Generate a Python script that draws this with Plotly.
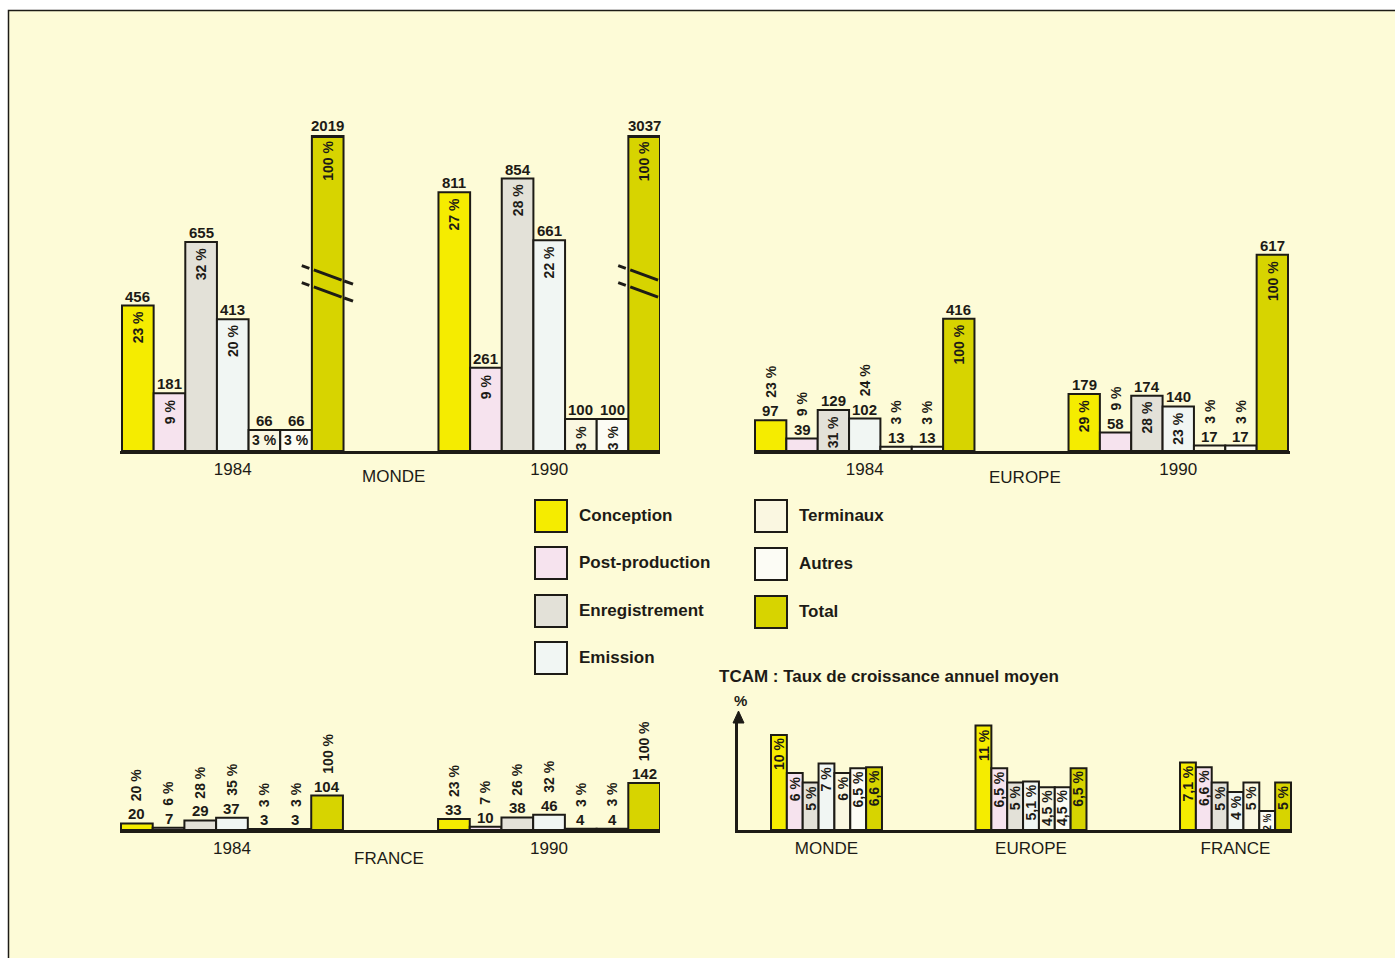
import plotly.graph_objects as go

# ---------------- data ----------------
CATEGORIES = ["Conception", "Post-production", "Enregistrement", "Emission",
              "Terminaux", "Autres", "Total"]
YEARS = ["1984", "1990"]

MONDE_1984 = [456, 181, 655, 413, 66, 66, 2019]
MONDE_1990 = [811, 261, 854, 661, 100, 100, 3037]
MONDE_PCT_1984 = [23, 9, 32, 20, 3, 3, 100]
MONDE_PCT_1990 = [27, 9, 28, 22, 3, 3, 100]

EUROPE_1984 = [97, 39, 129, 102, 13, 13, 416]
EUROPE_1990 = [179, 58, 174, 140, 17, 17, 617]
EUROPE_PCT_1984 = [23, 9, 31, 24, 3, 3, 100]
EUROPE_PCT_1990 = [29, 9, 28, 23, 3, 3, 100]

FRANCE_1984 = [20, 7, 29, 37, 3, 3, 104]
FRANCE_1990 = [33, 10, 38, 46, 4, 4, 142]
FRANCE_PCT_1984 = [20, 6, 28, 35, 3, 3, 100]
FRANCE_PCT_1990 = [23, 7, 26, 32, 3, 3, 100]

TCAM_REGIONS = ["MONDE", "EUROPE", "FRANCE"]
TCAM_MONDE = [10, 6, 5, 7, 6, 6.5, 6.6]
TCAM_EUROPE = [11, 6.5, 5, 5.1, 4.5, 4.5, 6.5]
TCAM_FRANCE = [7.1, 6.6, 5, 4, 5, 2, 5]
TCAM_TITLE = "TCAM : Taux de croissance annuel moyen"
TCAM_UNIT = "%"

# ---------------- style ----------------
COLORS = ["#F5EC00", "#F6E3EE", "#E3E1D8", "#F1F6F3", "#FAF7E1", "#FCFCF5", "#D7D400"]
BG = "#FDFBD7"
INK = "#1d1b16"
FONT = "Liberation Sans, Arial, sans-serif"

W, H = 1395, 958


def fx(x):
    return x / W


def fy(y):
    return 1 - y / H


fig = go.Figure()
annotations = []
shapes = []
layout_axes = {}

GAP = 10  # bar units between the two year groups

panels = [
    dict(name="MONDE", vals=[MONDE_1984, MONDE_1990], pct=[MONDE_PCT_1984, MONDE_PCT_1990],
         n=1, x0=120, x1=660, first=122, last=660, base=451, top=135, scale=0.319,
         mode="inside", flat_below=80, title=(393, 476), broken=True),
    dict(name="EUROPE", vals=[EUROPE_1984, EUROPE_1990], pct=[EUROPE_PCT_1984, EUROPE_PCT_1990],
         n=2, x0=754, x1=1290, first=755, last=1288, base=451, top=135, scale=0.318,
         mode="auto", inside_min=110, title=(1025, 477), broken=False),
    dict(name="FRANCE", vals=[FRANCE_1984, FRANCE_1990], pct=[FRANCE_PCT_1984, FRANCE_PCT_1990],
         n=3, x0=120, x1=660, first=121, last=660, base=830, top=700, scale=0.331,
         mode="outside", title=(389, 858), broken=False),
]

VAL_FONT = dict(family=FONT, size=15, color=INK, weight="bold")
PCT_FONT = dict(family=FONT, size=14, color=INK, weight="bold")
AXIS_FONT = dict(family=FONT, size=17, color=INK)

for p in panels:
    n = p["n"]
    xa = "x" if n == 1 else f"x{n}"
    ya = "y" if n == 1 else f"y{n}"
    u = (p["last"] - p["first"]) / (GAP + 7)
    xr = [-0.5 - (p["first"] - p["x0"]) / u, GAP + 6.5 + (p["x1"] - p["last"]) / u]
    ymax = (p["base"] - p["top"]) / p["scale"]
    layout_axes["xaxis" if n == 1 else f"xaxis{n}"] = dict(
        domain=[fx(p["x0"]), fx(p["x1"])], range=xr, anchor=ya,
        showline=True, linewidth=3, linecolor=INK, showgrid=False, zeroline=False,
        ticks="", tickvals=[3, GAP + 3], ticktext=YEARS,
        tickfont=AXIS_FONT, ticklabelstandoff=1, fixedrange=True)
    layout_axes["yaxis" if n == 1 else f"yaxis{n}"] = dict(
        domain=[fy(p["base"]), fy(p["top"])], range=[0, ymax], anchor=xa,
        visible=False, fixedrange=True)

    for k, cat in enumerate(CATEGORIES):
        fig.add_trace(go.Bar(
            x=[g * GAP + k for g in range(2)],
            y=[p["vals"][g][k] for g in range(2)],
            width=1, name=cat, xaxis=xa, yaxis=ya,
            marker=dict(color=COLORS[k], line=dict(color=INK, width=2)),
            showlegend=False, hoverinfo="skip"))

    for g in range(2):
        for k in range(7):
            v = p["vals"][g][k]
            pc = p["pct"][g][k]
            xc = g * GAP + k
            vtop = min(v, ymax)
            annotations.append(dict(
                x=xc, y=vtop, xref=xa, yref=ya, text=str(v), showarrow=False,
                yanchor="bottom", yshift=-1, font=VAL_FONT))
            ptxt = f"{pc} %"
            mode = p["mode"]
            if mode == "auto":
                mode = "inside" if v >= p["inside_min"] else "outside"
            if mode == "inside":
                if v < p.get("flat_below", 0):
                    annotations.append(dict(x=xc, y=v / 2, xref=xa, yref=ya, text=ptxt,
                                            showarrow=False, yanchor="middle", font=PCT_FONT))
                else:
                    annotations.append(dict(x=xc, y=vtop, xref=xa, yref=ya, text=ptxt,
                                            showarrow=False, yanchor="top", yshift=-4,
                                            textangle=-90, font=PCT_FONT))
            else:
                annotations.append(dict(x=xc, y=v, xref=xa, yref=ya, text=ptxt,
                                        showarrow=False, yanchor="bottom", yshift=20,
                                        textangle=-90, font=PCT_FONT))
            # clipped (broken) bars: top edge + break marks
            if p["broken"] and v > ymax:
                shapes.append(dict(type="line", xref=xa, yref=ya, x0=xc - 0.5, x1=xc + 0.5,
                                   y0=ymax - 1.5 / p["scale"], y1=ymax - 1.5 / p["scale"],
                                   line=dict(color=INK, width=3), layer="above"))
                ymid = (p["base"] - 275) / p["scale"]
                slope = -(11.5 / p["scale"])
                for off in (0, -17 / p["scale"]):
                    for a, b in ((-0.82, -0.58), (-0.44, 0.44), (0.52, 0.8)):
                        shapes.append(dict(type="line", xref=xa, yref=ya,
                                           x0=xc + a, x1=xc + b,
                                           y0=ymid + off + slope * a, y1=ymid + off + slope * b,
                                           line=dict(color=INK, width=3), layer="above"))

    annotations.append(dict(x=fx(p["title"][0]), y=fy(p["title"][1]), xref="paper", yref="paper",
                            text=p["name"], showarrow=False, xanchor="center", yanchor="middle",
                            font=AXIS_FONT))

# ---------------- TCAM panel ----------------
GAP_T = 12.9
TCAM_VALUES = [TCAM_MONDE, TCAM_EUROPE, TCAM_FRANCE]
t_x0, t_x1, t_first, t_last = 738, 1292, 771, 1291
t_base, t_top, t_scale = 830, 722, 9.5
u_t = (t_last - t_first) / (2 * GAP_T + 7)
layout_axes["xaxis4"] = dict(
    domain=[fx(t_x0), fx(t_x1)],
    range=[-0.5 - (t_first - t_x0) / u_t, 2 * GAP_T + 6.5 + (t_x1 - t_last) / u_t],
    anchor="y4", showline=True, linewidth=3, linecolor=INK, showgrid=False, zeroline=False,
    ticks="", tickvals=[g * GAP_T + 3 for g in range(3)], ticktext=TCAM_REGIONS,
    tickfont=AXIS_FONT, ticklabelstandoff=1, fixedrange=True)
layout_axes["yaxis4"] = dict(
    domain=[fy(t_base), fy(t_top)], range=[0, (t_base - t_top) / t_scale], anchor="x4",
    showline=True, linewidth=2.5, linecolor=INK, showgrid=False, zeroline=False,
    showticklabels=False, ticks="", fixedrange=True)

for k, cat in enumerate(CATEGORIES):
    fig.add_trace(go.Bar(
        x=[g * GAP_T + k for g in range(3)],
        y=[TCAM_VALUES[g][k] for g in range(3)],
        width=1, name=cat, xaxis="x4", yaxis="y4",
        marker=dict(color=COLORS[k], line=dict(color=INK, width=2)),
        showlegend=False, hoverinfo="skip"))
    for g in range(3):
        v = TCAM_VALUES[g][k]
        small = v * t_scale < 26
        annotations.append(dict(x=g * GAP_T + k, y=v, xref="x4", yref="y4",
                                text=f"{v:g}".replace(".", ",") + " %", showarrow=False,
                                yanchor="top", yshift=-1, textangle=-90,
                                font=dict(family=FONT, size=10 if small else 14, color=INK,
                                          weight="bold")))

# arrow head on the TCAM vertical axis
shapes.append(dict(type="path", xref="paper", yref="paper",
                   path=f"M {fx(733)} {fy(723)} L {fx(744)} {fy(723)} L {fx(738.5)} {fy(711)} Z",
                   fillcolor=INK, line=dict(color=INK, width=1), layer="above"))
annotations.append(dict(x=fx(740), y=fy(700), xref="paper", yref="paper", text=TCAM_UNIT,
                        showarrow=False, yanchor="middle",
                        font=dict(family=FONT, size=15, color=INK, weight="bold")))
annotations.append(dict(x=fx(717), y=fy(676), xref="paper", yref="paper", text=TCAM_TITLE,
                        showarrow=False, xanchor="left", yanchor="middle",
                        font=dict(family=FONT, size=17, color=INK, weight="bold")))

# ---------------- legend ----------------
legend_pos = [(535, 500), (535, 547), (535, 595), (535, 642), (755, 500), (755, 548), (755, 596)]
for k, cat in enumerate(CATEGORIES):
    lx, ly = legend_pos[k]
    shapes.append(dict(type="rect", xref="paper", yref="paper",
                       x0=fx(lx), x1=fx(lx + 32), y0=fy(ly + 32), y1=fy(ly),
                       fillcolor=COLORS[k], line=dict(color=INK, width=2)))
    annotations.append(dict(x=fx(lx + 42), y=fy(ly + 15), xref="paper", yref="paper",
                            text=cat, showarrow=False, xanchor="left", yanchor="middle",
                            font=dict(family=FONT, size=17, color=INK, weight="bold")))

# ---------------- frame ----------------
shapes.insert(0, dict(type="rect", xref="paper", yref="paper",
                      x0=fx(8.5), x1=fx(1420), y0=fy(990), y1=fy(10.5),
                      fillcolor=BG, line=dict(color=INK, width=1.5), layer="below"))

fig.update_layout(
    width=W, height=H, margin=dict(l=0, r=0, t=0, b=0),
    paper_bgcolor="white", plot_bgcolor="rgba(0,0,0,0)",
    barmode="overlay", showlegend=False,
    annotations=annotations, shapes=shapes,
    **layout_axes)

fig.write_html("out.html", config={"displayModeBar": False},
               post_script="document.body.style.margin='0';")
